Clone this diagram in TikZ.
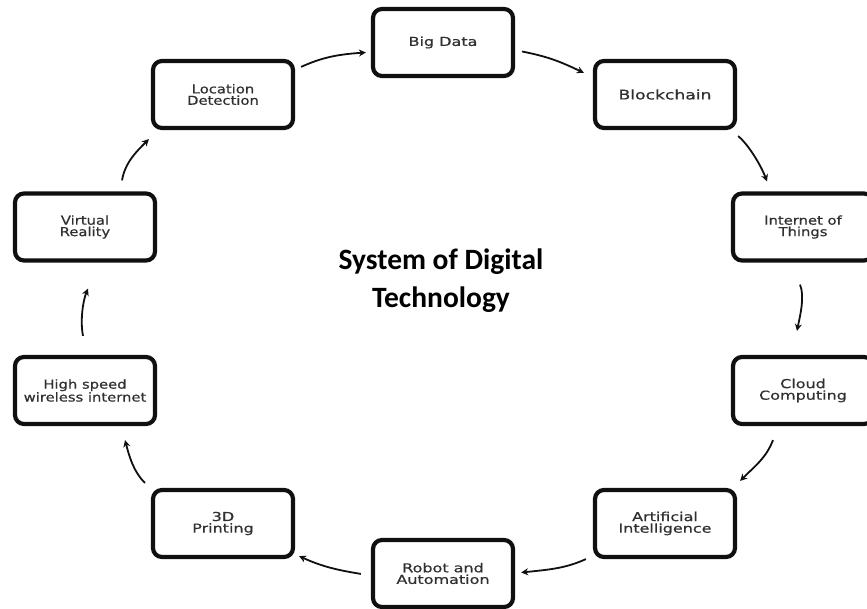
\documentclass[tikz,border=0pt]{standalone}
\usepackage{fontspec}
\setmainfont{Carlito}
\newfontfamily\boxfont[FakeStretch=1.2,FakeBold=0.7]{DejaVu Sans}
\newfontfamily\boxfontwide[FakeStretch=1.3,FakeBold=0.7]{DejaVu Sans}
\usetikzlibrary{calc,arrows.meta}
\definecolor{ink}{HTML}{101010}
\definecolor{boxtext}{HTML}{303030}
\tikzset{
  x=1pt,y=-1pt,
  techbox/.style={draw=ink,line width=4.2pt,rounded corners=9pt,minimum width=140pt,minimum height=67pt,inner sep=0pt,align=center,text=boxtext,font=\boxfont\fontsize{12.3pt}{11.4pt}\selectfont},
  widebox/.style={techbox,font=\boxfontwide\fontsize{12.3pt}{11.6pt}\selectfont},
  flow/.style={draw=ink,line width=1.8pt,-{Stealth[length=7pt,width=7pt]}},
  title/.style={font=\bfseries\fontsize{29.5pt}{38pt}\selectfont,align=center,text=black}
}
\begin{document}
\begin{tikzpicture}
\useasboundingbox (0,0) rectangle (867,609);
\node[techbox] (loc) at (223,94.5) {Location\\Detection};
\node[widebox] (big) at (443,42.5) {Big Data};
\node[widebox,font=\boxfontwide\fontsize{13.2pt}{12pt}\selectfont] (blo) at (665,94.5) {Blockchain};
\node[techbox] (iot) at (803,227) {Internet of\\Things};
\node[widebox] (clo) at (803,390.5) {Cloud\\Computing};
\node[widebox] (art) at (665,523.5) {Artificial\\Intelligence};
\node[widebox] (rob) at (443,573.5) {Robot and\\Automation};
\node[widebox] (tdp) at (223,523.5) {3D\\Printing};
\node[techbox] (hig) at (85,390.5) {High speed\\wireless internet};
\node[techbox] (vir) at (85,227) {Virtual\\Reality};
\node[title] (ttl) at (441,281) {System of Digital\\Technology};
\draw[flow] ($(loc.north east)+(6,8)$) .. controls +(20,-9) and +(-30,2) .. ($(big.west)+(-5,10)$);
\draw[flow] ($(big.east)+(7,9)$) .. controls +(25,5) and +(-25,-12) .. ($(blo.north west)+(-9,14)$);
\draw[flow] ($(blo.south east)+(1,6)$) .. controls +(10,8) and +(-6,-16) .. ($(iot.north)+(-36,-10)$);
\draw[flow] ($(iot.south)+(-3,22)$) .. controls +(5,12) and +(3,-15) .. ($(clo.north)+(-6,-24)$);
\draw[flow] ($(clo.south)+(-30,14)$) .. controls +(-7,18) and +(15,-15) .. ($(art.north east)+(3,-7)$);
\draw[flow] ($(art.south west)+(-7,0)$) .. controls +(-20,9) and +(30,-3) .. ($(rob.east)+(6,-1)$);
\draw[flow] ($(rob.north west)+(-10,36)$) .. controls +(-25,-4) and +(22,10) .. ($(tdp.south east)+(4,-3)$);
\draw[flow] ($(tdp.north west)+(-6,-5)$) .. controls +(-12,-12) and +(4,15) .. ($(hig.south)+(40,14)$);
\draw[flow] ($(hig.north)+(-2,-19)$) .. controls +(-3,-15) and +(-5,12) .. ($(vir.south)+(3,26)$);
\draw[flow] ($(vir.north)+(37,-11)$) .. controls +(3,-18) and +(-12,12) .. ($(loc.south west)+(-2,9)$);
\end{tikzpicture}
\end{document}
